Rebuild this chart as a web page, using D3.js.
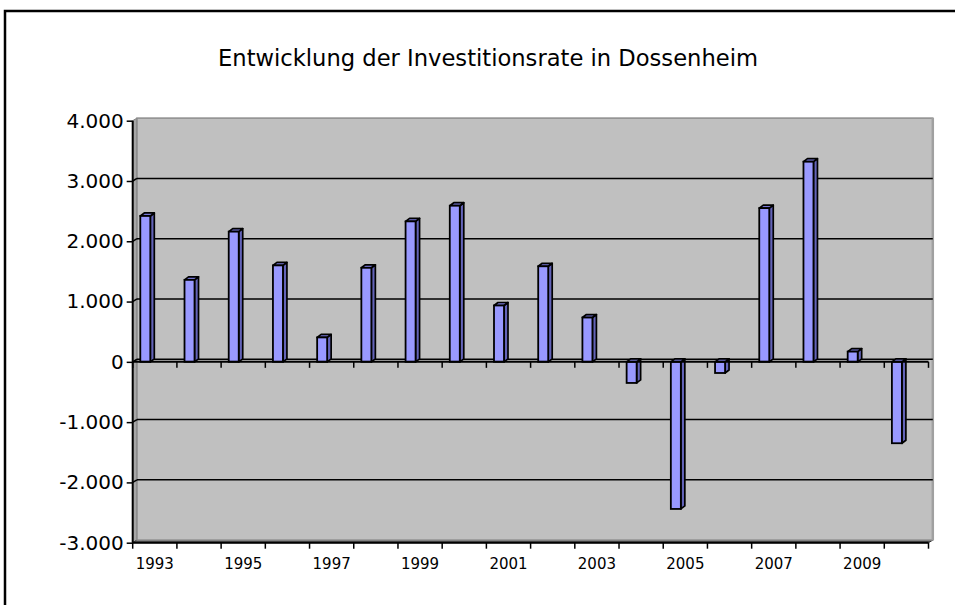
<!DOCTYPE html>
<html>
<head>
<meta charset="utf-8">
<script src="https://cdn.jsdelivr.net/npm/d3@7"></script>
<style>
  body { margin: 0; background: #fff; overflow: hidden; }
</style>
</head>
<body>
<div id="chart"></div>
<script>
// data
var years = [1993, 1994, 1995, 1996, 1997, 1998, 1999, 2000, 2001,
             2002, 2003, 2004, 2005, 2006, 2007, 2008, 2009, 2010];
var rates = [2420, 1360, 2160, 1600, 405, 1560, 2330, 2590, 935,
             1585, 735, -350, -2440, -185, 2550, 3320, 170, -1350];
var yTicks = [-3000, -2000, -1000, 0, 1000, 2000, 3000, 4000];
var yearLabels = [1993, 1995, 1997, 1999, 2001, 2003, 2005, 2007, 2009];
var title = "Entwicklung der Investitionsrate in Dossenheim";

var data = years.map(function(d, i) { return {year: d, val: rates[i]}; });

var width = 955, height = 605;
// plot box (note: "top" is a reserved window prop, so pLeft/pTop...)
var pLeft = 132.7, pRight = 928.5, pTop = 120.7, pBottom = 542.7;
var depthX = 4.3, depthY = -2.6;   // 3d offset of the back wall

var de = d3.formatLocale({decimal: ",", thousands: ".", grouping: [3], currency: ["", " €"], minus: "-"});
var fmt = de.format(",");

var svg = d3.select("#chart")
  .append("svg")
  .attr("width", width)
  .attr("height", height)
  .style("display", "block");

// outer chart frame (runs off the right and bottom edge)
svg.append("rect")
  .attr("x", 5).attr("y", 11)
  .attr("width", 980).attr("height", 620)
  .attr("fill", "none")
  .attr("stroke", "#000")
  .attr("stroke-width", 2.5);

svg.append("text")
  .attr("x", 488).attr("y", 66)
  .attr("text-anchor", "middle")
  .attr("textLength", 540)
  .attr("lengthAdjust", "spacingAndGlyphs")
  .style("font-family", "'DejaVu Sans Condensed', 'DejaVu Sans', sans-serif")
  .style("font-size", "23px")
  .style("fill", "#000")
  .text(title);

var x = d3.scaleBand()
  .domain(years)
  .range([pLeft, pRight])
  .padding(0);

var y = d3.scaleLinear()
  .domain([-3000, 4000])
  .range([pBottom, pTop]);

///////////// walls /////////////
// side wall
svg.append("polygon")
  .attr("points", [[pLeft, y(4000)], [pLeft + depthX, y(4000) + depthY],
                   [pLeft + depthX, y(-3000) + depthY], [pLeft, y(-3000)]].join(" "))
  .attr("fill", "#a6a6a6")
  .attr("stroke", "#808080");
// floor
svg.append("polygon")
  .attr("points", [[pLeft, y(-3000)], [pLeft + depthX, y(-3000) + depthY],
                   [pRight + depthX, y(-3000) + depthY], [pRight, y(-3000)]].join(" "))
  .attr("fill", "#555")
  .attr("stroke", "#333");
// back wall
svg.append("rect")
  .attr("x", pLeft + depthX)
  .attr("y", y(4000) + depthY)
  .attr("width", pRight - pLeft)
  .attr("height", y(-3000) - y(4000))
  .attr("fill", "#c0c0c0")
  .attr("stroke", "#8c8c8c")
  .attr("stroke-width", 1.5);
svg.append("line")
  .attr("x1", pRight + depthX).attr("x2", pRight + depthX)
  .attr("y1", y(4000) + depthY).attr("y2", y(-3000) + depthY)
  .attr("stroke", "#a0a0a0")
  .attr("stroke-width", 2.5);

// gridlines on the back wall
var gridVals = yTicks.filter(function(d) { return d > -3000 && d < 4000; });
svg.selectAll("line.grid")
  .data(gridVals)
  .enter().append("line")
  .attr("class", "grid")
  .attr("x1", pLeft + depthX)
  .attr("x2", pRight + depthX)
  .attr("y1", function(d) { return y(d) + depthY; })
  .attr("y2", function(d) { return y(d) + depthY; })
  .attr("stroke", "#000")
  .attr("stroke-width", 1.5);
svg.selectAll("line.gridside")
  .data(gridVals)
  .enter().append("line")
  .attr("class", "gridside")
  .attr("x1", pLeft)
  .attr("x2", pLeft + depthX)
  .attr("y1", function(d) { return y(d); })
  .attr("y2", function(d) { return y(d) + depthY; })
  .attr("stroke", "#000")
  .attr("stroke-width", 1.5);

///////////// axes /////////////
var bounds = years.map(function(d) { return x(d); }).concat([pRight]);

function catAxis(yPos) {
  svg.append("line")
    .attr("x1", pLeft).attr("x2", pRight)
    .attr("y1", yPos).attr("y2", yPos)
    .attr("stroke", "#000")
    .attr("stroke-width", 2);
  svg.append("g").selectAll("line")
    .data(bounds)
    .enter().append("line")
    .attr("x1", function(d) { return d; })
    .attr("x2", function(d) { return d; })
    .attr("y1", yPos)
    .attr("y2", yPos + 6)
    .attr("stroke", "#000")
    .attr("stroke-width", 1.5);
}

// category axis at the bottom with year labels
catAxis(pBottom);
svg.append("g")
  .attr("transform", "translate(0," + pBottom + ")")
  .call(d3.axisBottom(x).tickValues(yearLabels).tickSize(0).tickPadding(16))
  .call(function(g) { g.select(".domain").remove(); })
  .selectAll("text")
    .style("font-family", "'DejaVu Sans', sans-serif")
    .style("font-size", "15px")
    .attr("fill", "#000");

///////////// bars /////////////
var bx = 14.5, bw = 10, dx = 4, dy = -3;
var bars = svg.selectAll("g.bar")
  .data(data)
  .enter().append("g")
  .attr("class", "bar");

bars.each(function(d) {
  var g = d3.select(this);
  var xc = x(d.year) + x.bandwidth() / 2;
  var x0 = xc - bx, x1 = x0 + bw;
  var yt = Math.min(y(d.val), y(0)), yb = Math.max(y(d.val), y(0));
  // side
  g.append("polygon")
    .attr("points", [[x1, yt], [x1 + dx, yt + dy], [x1 + dx, yb + dy], [x1, yb]].join(" "))
    .attr("fill", "#6363b8")
    .attr("stroke", "#000")
    .attr("stroke-width", 1.7)
    .attr("stroke-linejoin", "round");
  // top
  g.append("polygon")
    .attr("points", [[x0, yt], [x0 + dx, yt + dy], [x1 + dx, yt + dy], [x1, yt]].join(" "))
    .attr("fill", "#7777d6")
    .attr("stroke", "#000")
    .attr("stroke-width", 1.7)
    .attr("stroke-linejoin", "round");
  // front
  g.append("rect")
    .attr("x", x0).attr("y", yt)
    .attr("width", bw).attr("height", yb - yt)
    .attr("fill", "#9999ff")
    .attr("stroke", "#000")
    .attr("stroke-width", 1.8);
});

// category axis at zero
catAxis(y(0));

// value axis
svg.append("g")
  .attr("transform", "translate(" + pLeft + ",0)")
  .call(d3.axisLeft(y).tickValues(yTicks).tickFormat(fmt).tickSize(6).tickPadding(3))
  .call(function(g) {
    g.select(".domain").attr("stroke-width", 2).attr("d", "M0," + pTop + "V" + pBottom);
    g.selectAll(".tick line").attr("stroke-width", 1.5);
  })
  .selectAll("text")
    .style("font-family", "'DejaVu Sans', Verdana, sans-serif")
    .style("font-size", "20px")
    .attr("fill", "#000");
</script>
</body>
</html>
